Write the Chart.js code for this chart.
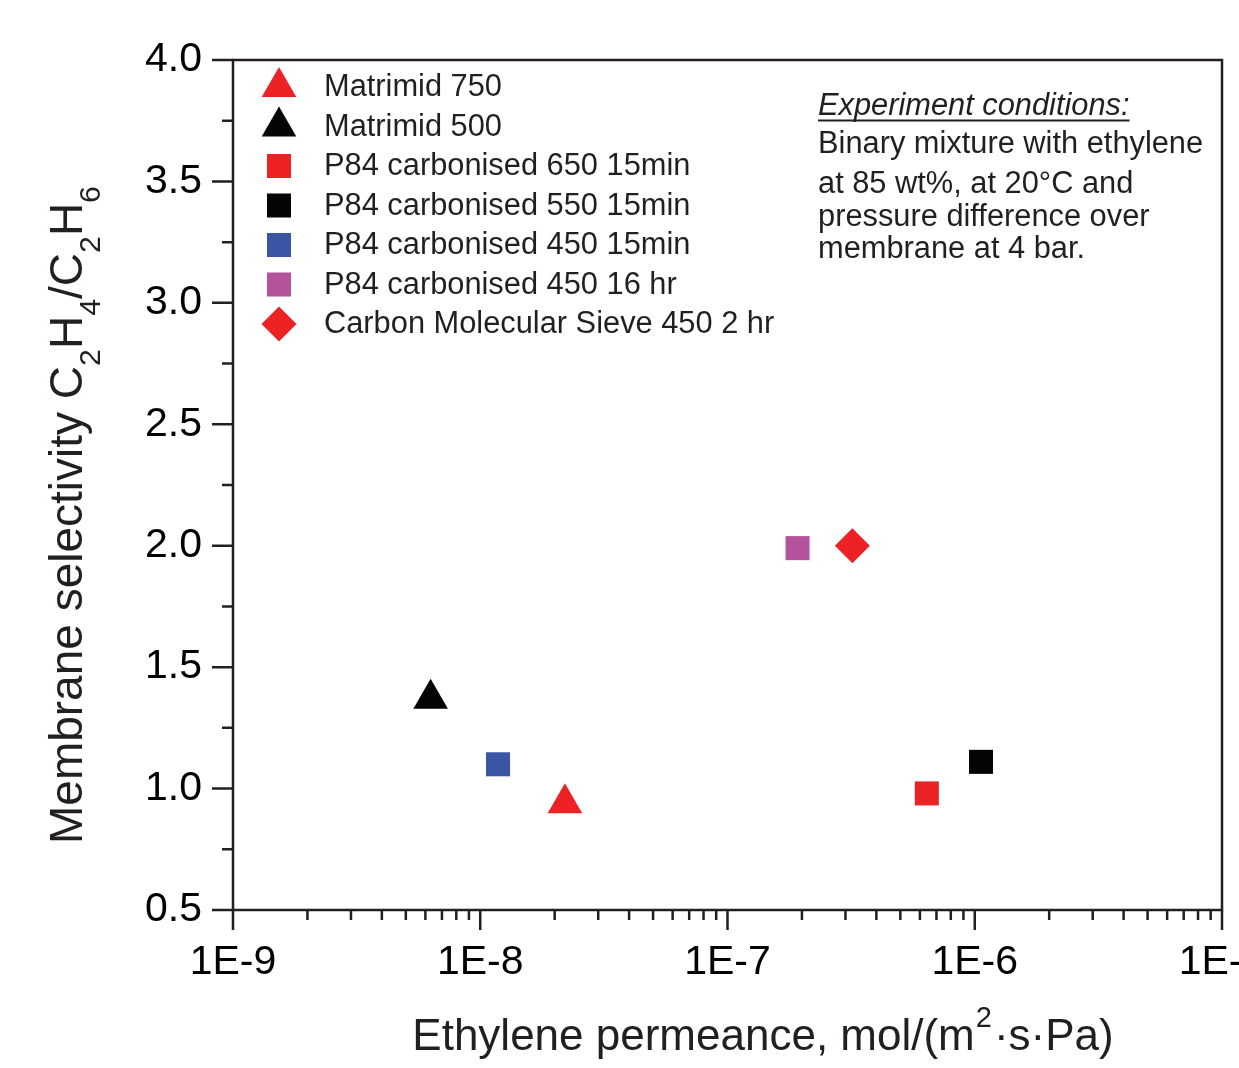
<!DOCTYPE html>
<html>
<head>
<meta charset="utf-8">
<script src="https://cdn.jsdelivr.net/npm/chart.js@4.4.1/dist/chart.umd.min.js"></script>
<style>
  html, body { margin: 0; padding: 0; background: #ffffff; }
  #wrap { width: 1239px; height: 1068px; position: relative; }
</style>
</head>
<body>
<div id="wrap"><canvas id="c" width="1239" height="1068"></canvas></div>
<script>
// ---- Data ----
const seriesLabels = [
  'Matrimid 750',
  'Matrimid 500',
  'P84 carbonised 650 15min',
  'P84 carbonised 550 15min',
  'P84 carbonised 450 15min',
  'P84 carbonised 450 16 hr',
  'Carbon Molecular Sieve 450 2 hr'
];
const permeance   = [2.2e-8, 6.3e-9, 6.4e-7, 1.06e-6, 1.18e-8, 1.92e-7, 3.2e-7];
const selectivity = [0.94,   1.37,   0.98,   1.11,    1.10,    1.99,    2.00];
const seriesColors = ['#ed2224', '#050505', '#ed2224', '#050505', '#3a55a4', '#b5529c', '#ed2224'];
const seriesShapes = ['triangle', 'triangle', 'rect', 'rect', 'rect', 'rect', 'rectRot'];
const seriesRadius = [20, 20, 17, 17, 17, 17, 17.5];
const yTickValues = [0.5, 1.0, 1.5, 2.0, 2.5, 3.0, 3.5, 4.0];
const xDecades = [-9, -8, -7, -6, -5];
const xTickLabels = ['1E-9', '1E-8', '1E-7', '1E-6', '1E-5'];
const noteLines = [
  'Binary mixture with ethylene',
  'at 85 wt%, at 20\u00B0C and',
  'pressure difference over',
  'membrane at 4 bar.'
];

const FONT = '"Liberation Sans", Arial, Helvetica, sans-serif';
const AXIS = '#231f20';

const datasets = seriesLabels.map((lab, i) => ({
  label: lab,
  data: [{ x: permeance[i], y: selectivity[i] }],
  pointStyle: seriesShapes[i],
  pointRadius: seriesRadius[i],
  pointHoverRadius: seriesRadius[i],
  backgroundColor: seriesColors[i],
  borderColor: seriesColors[i],
  borderWidth: 0,
  showLine: false
}));

function drawShape(ctx, shape, x, y, r) {
  ctx.beginPath();
  if (shape === 'triangle') {
    ctx.moveTo(x, y - r);
    ctx.lineTo(x + Math.sin(Math.PI * 2 / 3) * r, y + r / 2);
    ctx.lineTo(x - Math.sin(Math.PI * 2 / 3) * r, y + r / 2);
  } else if (shape === 'rect') {
    const s = Math.SQRT1_2 * r;
    ctx.rect(x - s, y - s, 2 * s, 2 * s);
  } else {
    ctx.moveTo(x, y - r); ctx.lineTo(x + r, y); ctx.lineTo(x, y + r); ctx.lineTo(x - r, y);
  }
  ctx.closePath();
  ctx.fill();
}

function drawRich(ctx, segs, x, y, size) {
  let cx = x;
  segs.forEach(s => {
    const fs = s.k ? size * 0.66 : size;
    ctx.font = fs + 'px ' + FONT;
    const dy = s.k === 'sub' ? size * 0.39 : (s.k === 'sup' ? -size * 0.52 : 0);
    ctx.fillText(s.t, cx, y + dy);
    cx += ctx.measureText(s.t).width + (s.gap || 0);
  });
  return cx - x;
}
function richWidth(ctx, segs, size) {
  let w = 0;
  segs.forEach(s => {
    ctx.font = (s.k ? size * 0.66 : size) + 'px ' + FONT;
    w += ctx.measureText(s.t).width + (s.gap || 0);
  });
  return w;
}

const decorPlugin = {
  id: 'decor',
  afterDraw(chart) {
    const ctx = chart.ctx;
    const a = chart.chartArea;
    const xs = chart.scales.x, ys = chart.scales.y;
    ctx.save();
    ctx.strokeStyle = AXIS;
    ctx.lineWidth = 2.5;
    ctx.lineCap = 'butt';
    // frame
    ctx.strokeRect(a.left, a.top, a.right - a.left, a.bottom - a.top);
    // y ticks (major 0.5, minor 0.25)
    ctx.beginPath();
    yTickValues.forEach((v, i) => {
      const py = ys.getPixelForValue(v);
      ctx.moveTo(a.left - 21, py); ctx.lineTo(a.left, py);
      if (i < yTickValues.length - 1) {
        const pm = ys.getPixelForValue(v + 0.25);
        ctx.moveTo(a.left - 11, pm); ctx.lineTo(a.left, pm);
      }
    });
    // x ticks
    xDecades.forEach((d, i) => {
      const base = Math.pow(10, d);
      const px = xs.getPixelForValue(base);
      ctx.moveTo(px, a.bottom); ctx.lineTo(px, a.bottom + 20);
      if (i < xDecades.length - 1) {
        for (let k = 2; k <= 9; k++) {
          const pm = xs.getPixelForValue(k * base);
          ctx.moveTo(pm, a.bottom); ctx.lineTo(pm, a.bottom + 10);
        }
      }
    });
    ctx.stroke();

    // legend
    ctx.fillStyle = AXIS;
    ctx.textBaseline = 'middle';
    ctx.textAlign = 'left';
    chart.data.datasets.forEach((ds, i) => {
      const cy = a.top + 27 + i * 39.5;
      ctx.fillStyle = ds.backgroundColor;
      drawShape(ctx, ds.pointStyle, a.left + 46, cy, ds.pointRadius);
      ctx.fillStyle = AXIS;
      ctx.font = '30.8px ' + FONT;
      ctx.fillText(ds.label, a.left + 91, cy + 1);
    });

    // note
    ctx.textBaseline = 'alphabetic';
    ctx.fillStyle = AXIS;
    ctx.font = 'italic 30.8px ' + FONT;
    const nx = 818;
    ctx.fillText('Experiment conditions:', nx, 115);
    const uw = ctx.measureText('Experiment conditions:').width;
    ctx.fillRect(nx, 119.5, uw, 2);
    ctx.font = '30.8px ' + FONT;
    const noteY = [153, 193, 226, 258];
    noteLines.forEach((t, i) => ctx.fillText(t, nx, noteY[i]));

    // x title
    const xt = [
      { t: 'Ethylene permeance, mol/(m', gap: 1 },
      { t: '2', k: 'sup', gap: 2 },
      { t: '\u00B7s\u00B7Pa)' }
    ];
    const xw = richWidth(ctx, xt, 44);
    drawRich(ctx, xt, 763 - xw / 2, 1050, 44);

    // y title
    const yt = [
      { t: 'Membrane selectivity C' },
      { t: '2', k: 'sub' },
      { t: 'H' },
      { t: '4', k: 'sub' },
      { t: '/C' },
      { t: '2', k: 'sub' },
      { t: 'H' },
      { t: '6', k: 'sub' }
    ];
    const yw = richWidth(ctx, yt, 46);
    ctx.translate(82, 515);
    ctx.rotate(-Math.PI / 2);
    drawRich(ctx, yt, -yw / 2, 0, 46);
    ctx.restore();
  }
};

new Chart(document.getElementById('c'), {
  type: 'scatter',
  data: { datasets },
  options: {
    responsive: false,
    animation: false,
    events: [],
    layout: { autoPadding: false, padding: { top: 60, right: 17, left: 0, bottom: 0 } },
    plugins: { legend: { display: false }, tooltip: { enabled: false } },
    scales: {
      x: {
        type: 'logarithmic',
        min: 1e-9, max: 1e-5,
        position: 'bottom',
        border: { display: false },
        grid: { display: true, drawOnChartArea: false, drawTicks: true, tickLength: 20, color: 'rgba(0,0,0,0)' },
        ticks: {
          autoSkip: false, maxRotation: 0, minRotation: 0, padding: 8,
          color: '#000', font: { family: FONT, size: 41 },
          callback: function (v) {
            const e = Math.log10(v);
            const idx = xDecades.indexOf(Math.round(e));
            if (Math.abs(e - Math.round(e)) < 1e-6 && idx >= 0) return xTickLabels[idx];
            return '';
          }
        },
        afterFit(s) { s.height = 158; s.paddingLeft = 0; s.paddingRight = 0; }
      },
      y: {
        type: 'linear',
        min: 0.5, max: 4.0,
        border: { display: false },
        grid: { display: true, drawOnChartArea: false, drawTicks: true, tickLength: 21, color: 'rgba(0,0,0,0)' },
        ticks: {
          stepSize: 0.5, padding: 10, color: '#000',
          font: { family: FONT, size: 41 },
          callback: (v) => Number(v).toFixed(1)
        },
        afterFit(s) { s.width = 233; s.paddingTop = 0; s.paddingBottom = 0; }
      }
    }
  },
  plugins: [decorPlugin]
});
</script>
</body>
</html>
